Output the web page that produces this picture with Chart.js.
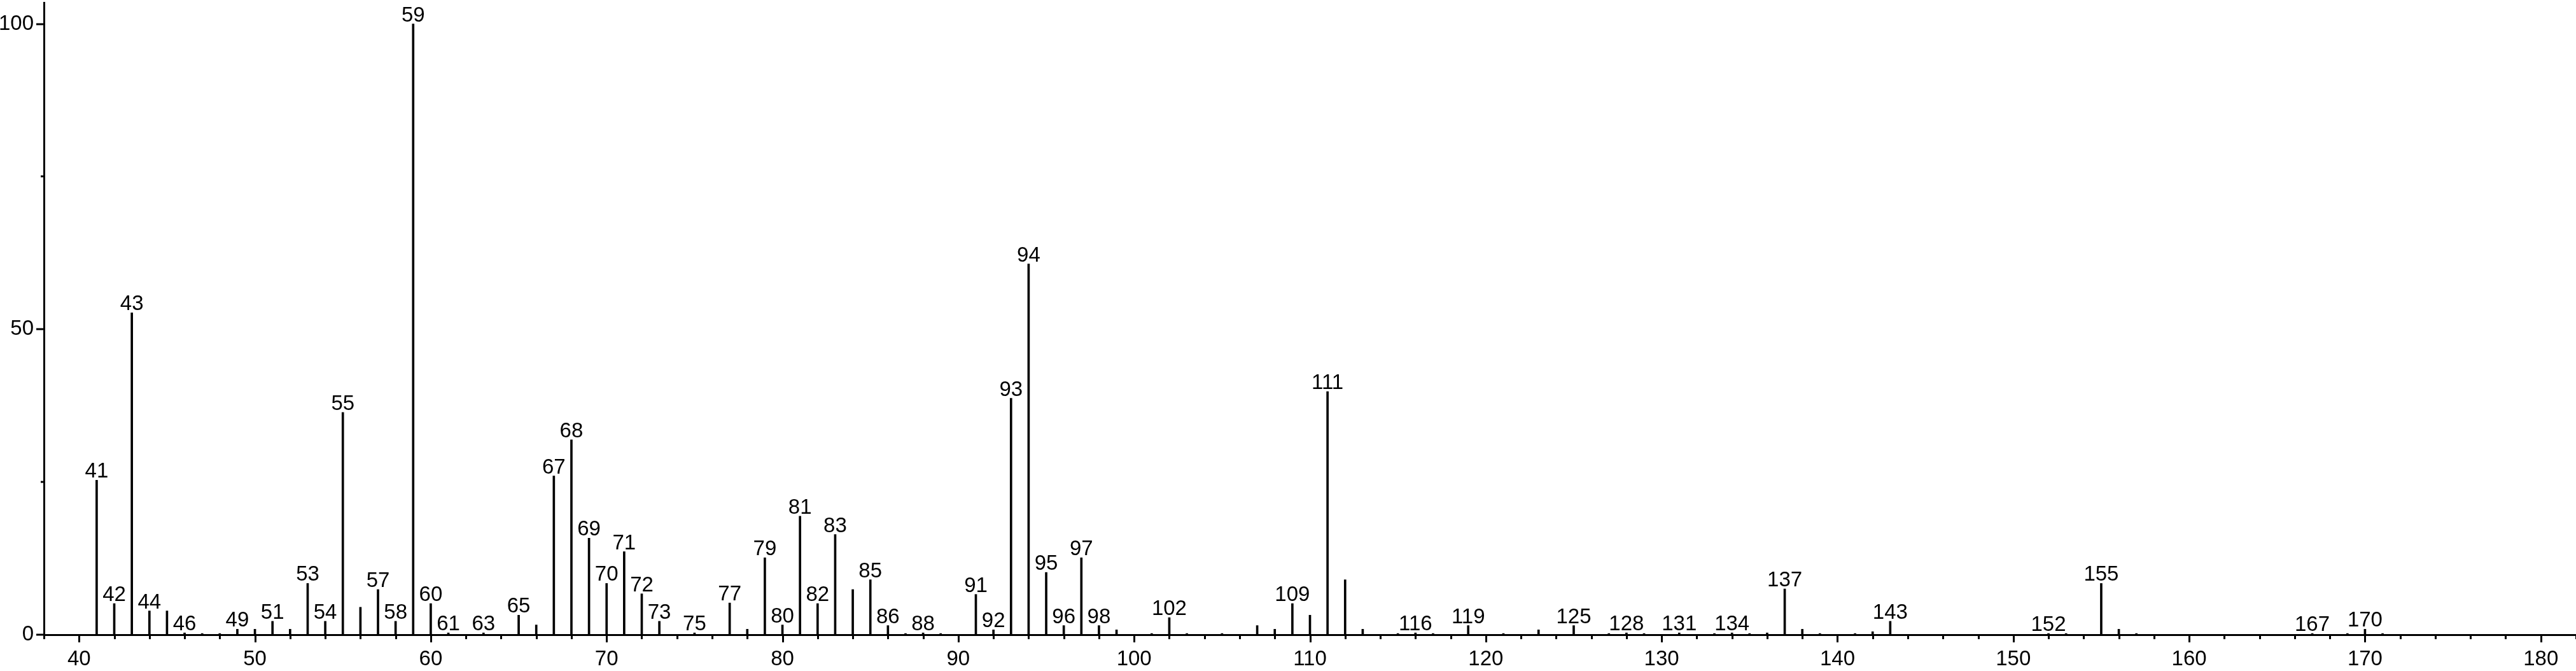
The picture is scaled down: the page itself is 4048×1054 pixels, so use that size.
<!DOCTYPE html>
<html>
<head>
<meta charset="utf-8">
<title>Mass spectrum</title>
<script src="https://cdn.jsdelivr.net/npm/chart.js@4.4.0/dist/chart.umd.min.js"></script>
<style>
  html, body { margin: 0; padding: 0; background: #fff; }
  #wrap { width: 4048px; height: 1054px; position: relative; }
</style>
</head>
<body>
<div id="wrap"><canvas id="spectrum"></canvas></div>
<script>
// m/z of every peak
const masses = [
  41, 42, 43, 44, 45, 46, 47, 48, 49, 50,
  51, 52, 53, 54, 55, 56, 57, 58, 59, 60,
  61, 63, 65, 66, 67, 68, 69, 70, 71, 72,
  73, 75, 77, 78, 79, 80, 81, 82, 83, 84,
  85, 86, 87, 88, 89, 91, 92, 93, 94, 95,
  96, 97, 98, 99, 101, 102, 103, 105, 107, 108,
  109, 110, 111, 112, 113, 115, 116, 117, 119, 121,
  123, 125, 127, 128, 129, 131, 133, 134, 135, 136,
  137, 138, 139, 141, 142, 143, 152, 153, 155, 156,
  157, 167, 169, 170, 171
];
// relative intensity in %
const intensities = [
  25.3, 5.1, 52.7, 3.9, 3.9, 0.3, 0.2, 0.2, 0.9, 0.9,
  2.2, 0.9, 8.4, 2.2, 36.4, 4.5, 7.4, 2.2, 100, 5.1,
  0.3, 0.3, 3.2, 1.6, 26.0, 31.9, 15.8, 8.4, 13.6, 6.7,
  2.2, 0.3, 5.2, 0.9, 12.6, 1.6, 19.4, 5.1, 16.4, 7.4,
  9.0, 1.5, 0.2, 0.3, 0.2, 6.6, 0.8, 38.7, 60.7, 10.2,
  1.5, 12.6, 1.5, 0.8, 0.2, 2.8, 0.2, 0.2, 1.5, 0.9,
  5.1, 3.2, 39.8, 9.0, 0.9, 0.2, 0.3, 0.2, 1.5, 0.2,
  0.8, 1.5, 0.2, 0.3, 0.2, 0.3, 0.2, 0.3, 0.2, 0.3,
  7.5, 0.9, 0.2, 0.2, 0.5, 2.2, 0.2, 0.2, 8.4, 0.9,
  0.2, 0.2, 0.2, 0.9, 0.2
];
// peaks that get an m/z label
const labelledMasses = [
  41, 42, 43, 44, 46, 49, 51, 53, 54, 55, 57, 58, 59, 60, 61, 63, 65,
  67, 68, 69, 70, 71, 72, 73, 75, 77, 79, 80, 81, 82, 83, 85, 86, 88,
  91, 92, 93, 94, 95, 96, 97, 98, 102, 109, 111, 116, 119, 125, 128,
  131, 134, 137, 143, 152, 155, 167, 170
];
const xTickValues = [40, 50, 60, 70, 80, 90, 100, 110, 120, 130, 140, 150, 160, 170, 180];
const yTickValues = [0, 50, 100];
const yMinorTicks = [25, 75];
const xMinorStep = 2;

Chart.defaults.font.family = '"Liberation Sans", Arial, sans-serif';
Chart.defaults.font.size = 33;
Chart.defaults.color = '#000';

// no extra room for the edge labels, the plot fills the canvas
const noPadding = s => {
  s.paddingTop = 0; s.paddingBottom = 0; s.paddingLeft = 0; s.paddingRight = 0;
};

// small ticks under the x axis, and the y ticks, drawn off the scales
const tickMarks = {
  id: 'tickMarks',
  afterDraw(chart) {
    const { ctx, scales: { x, y } } = chart;
    const base = y.getPixelForValue(0);
    const axisX = chart.chartArea.left;
    ctx.save();
    ctx.strokeStyle = '#000';
    ctx.lineWidth = 3;
    ctx.beginPath();
    for (let v = Math.ceil(x.min / xMinorStep) * xMinorStep; v <= x.max; v += xMinorStep) {
      const px = Math.round(x.getPixelForValue(v)) + 0.5;
      const len = xTickValues.includes(v) ? 12 : 7;
      ctx.moveTo(px, base);
      ctx.lineTo(px, base + len);
    }
    yTickValues.forEach(v => {
      const py = Math.round(y.getPixelForValue(v));
      ctx.moveTo(axisX - 12, py);
      ctx.lineTo(axisX, py);
    });
    yMinorTicks.forEach(v => {
      const py = Math.round(y.getPixelForValue(v));
      ctx.moveTo(axisX - 5, py);
      ctx.lineTo(axisX, py);
    });
    ctx.stroke();
    ctx.restore();
  }
};

// m/z labels on top of peaks
const peakLabels = {
  id: 'peakLabels',
  afterDatasetsDraw(chart) {
    const { ctx, scales: { x, y } } = chart;
    ctx.save();
    ctx.fillStyle = '#000';
    ctx.font = '33px "Liberation Sans", Arial, sans-serif';
    ctx.textAlign = 'center';
    ctx.textBaseline = 'alphabetic';
    labelledMasses.forEach(m => {
      const i = masses.indexOf(m);
      if (i < 0) return;
      const px = x.getPixelForValue(m);
      const py = y.getPixelForValue(intensities[i]);
      ctx.fillText(String(m), px, py - 4);
    });
    ctx.restore();
  }
};

new Chart(document.getElementById('spectrum'), {
  type: 'bar',
  data: {
    datasets: [{
      data: masses.map((m, i) => ({ x: m, y: intensities[i] })),
      backgroundColor: '#000',
      borderWidth: 0,
      barThickness: 3,
      grouped: false
    }]
  },
  options: {
    responsive: true,
    maintainAspectRatio: false,
    animation: false,
    devicePixelRatio: 1,
    layout: { padding: { top: 4, right: 0, left: 0, bottom: 0 } },
    plugins: { legend: { display: false }, tooltip: { enabled: false } },
    scales: {
      x: {
        type: 'linear',
        min: 38,
        max: 182,
        offset: false,
        afterBuildTicks: s => { s.ticks = xTickValues.map(v => ({ value: v })); },
        afterFit: s => { s.height = 57; noPadding(s); },
        ticks: { padding: 19, maxRotation: 0, autoSkip: false },
        grid: { offset: false, drawOnChartArea: false, drawTicks: false },
        border: { display: true, color: '#000', width: 3 }
      },
      y: {
        min: 0,
        max: 103.5,
        afterBuildTicks: s => { s.ticks = yTickValues.map(v => ({ value: v })); },
        afterFit: s => { s.width = 69; noPadding(s); },
        ticks: { padding: 16 },
        grid: { drawOnChartArea: false, drawTicks: false },
        border: { display: true, color: '#000', width: 3 }
      }
    }
  },
  plugins: [tickMarks, peakLabels]
});
</script>
</body>
</html>
